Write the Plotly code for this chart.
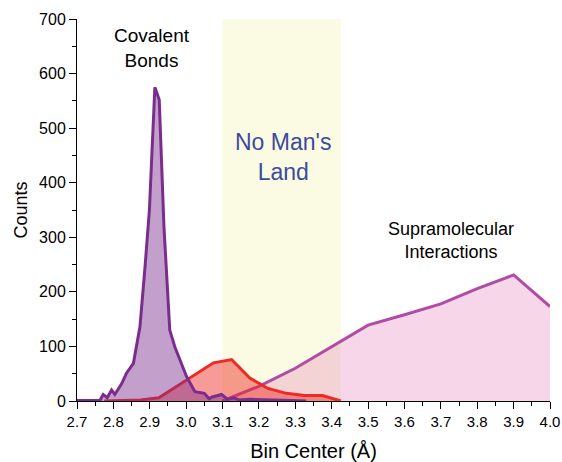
import plotly.graph_objects as go

# Covalent bond distances (purple)
cov_x = [2.70, 2.74, 2.763, 2.772, 2.783, 2.795, 2.804, 2.823, 2.836, 2.855, 2.873,
         2.887, 2.899, 2.914, 2.926, 2.939, 2.955, 2.969, 3.001, 3.024, 3.035, 3.05,
         3.063, 3.07, 3.097, 3.115, 3.13, 3.145, 3.175, 3.21, 3.25, 3.29, 3.33]
cov_y = [1, 1, 1, 12, 6, 20, 12, 32, 51, 69, 136,
         246, 350, 575, 552, 319, 130, 99, 45, 17, 16, 14,
         4, 7, 12, 3, 6, 2, 3, 2, 1, 1, 0]

# Intermediate contacts (red)
mid_x = [2.775, 2.825, 2.875, 2.925, 2.975, 3.025, 3.075, 3.125, 3.175, 3.225, 3.275, 3.325, 3.375, 3.425]
mid_y = [0, 1, 2, 6, 27, 48, 70, 76, 42, 23, 14, 10, 10, 0]

# Supramolecular interactions (pink)
sup_x = [3.1, 3.2, 3.3, 3.4, 3.5, 3.6, 3.7, 3.8, 3.9, 4.0]
sup_y = [0, 27, 60, 99, 139, 158, 178, 206, 231, 173]

# "No Man's Land" band
band = [3.1, 3.425]

fig = go.Figure()

fig.add_trace(go.Scatter(x=sup_x, y=sup_y, mode="lines", fill="tozeroy",
                         line=dict(color="#B04BA6", width=3),
                         fillcolor="rgba(225,120,180,0.3)", hoverinfo="skip"))
fig.add_trace(go.Scatter(x=mid_x, y=mid_y, mode="lines", fill="tozeroy",
                         line=dict(color="#EE2A24", width=3),
                         fillcolor="rgba(238,42,36,0.47)", hoverinfo="skip"))
fig.add_trace(go.Scatter(x=cov_x, y=cov_y, mode="lines", fill="tozeroy",
                         line=dict(color="#7B2D8E", width=3),
                         fillcolor="rgba(123,45,142,0.45)", hoverinfo="skip"))

fig.add_shape(type="rect", xref="x", yref="y", x0=band[0], x1=band[1], y0=0, y1=700,
              fillcolor="#FBFBE3", line=dict(width=0), layer="below")

font = "Liberation Sans, Arial, sans-serif"
fig.add_annotation(x=2.906, y=647, text="Covalent<br>Bonds", showarrow=False,
                   font=dict(family=font, size=19, color="black"))
fig.add_annotation(x=3.266, y=447, text="No Man's<br>Land", showarrow=False,
                   font=dict(family=font, size=23, color="#3B4BA0"))
fig.add_annotation(x=3.727, y=295, text="Supramolecular<br>Interactions", showarrow=False,
                   font=dict(family=font, size=18, color="black"))

fig.update_layout(
    width=562, height=462,
    margin=dict(l=77, r=12, t=19, b=61),
    paper_bgcolor="white", plot_bgcolor="white",
    showlegend=False,
    font=dict(family=font, size=16, color="black"),
    xaxis=dict(range=[2.7, 4.0], tickmode="linear", tick0=2.7, dtick=0.1, tickformat=".1f",
               automargin=False,
               showgrid=False, zeroline=False, showline=True, linecolor="black", linewidth=1,
               ticks="outside", ticklen=7, tickwidth=1, tickcolor="black",
               tickfont=dict(size=15),
               minor=dict(ticks="outside", ticklen=4, tickwidth=1, tickcolor="black", dtick=0.05, showgrid=False),
               title=dict(text="Bin Center (Å)", font=dict(size=20), standoff=14)),
    yaxis=dict(range=[0, 700], tickmode="linear", tick0=0, dtick=100,
               automargin=False,
               showgrid=False, zeroline=False, showline=True, linecolor="black", linewidth=1,
               ticks="outside", ticklen=7, tickwidth=1, tickcolor="black",
               tickfont=dict(size=16),
               minor=dict(ticks="outside", ticklen=4, tickwidth=1, tickcolor="black", dtick=50, showgrid=False),
               title=dict(text="Counts", font=dict(size=18), standoff=6)),
)

fig.write_html("out.html")
